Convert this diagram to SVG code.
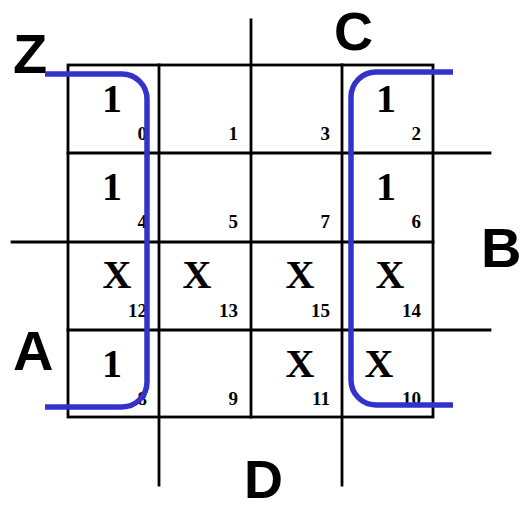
<svg xmlns="http://www.w3.org/2000/svg" width="520" height="510" viewBox="0 0 520 510">
<style>
.g{stroke:#000;stroke-width:2.8;fill:none;stroke-linecap:square}
.v{font-family:"Liberation Serif","Times New Roman",serif;font-weight:bold;font-size:40px;text-anchor:middle;fill:#000}
.n{font-family:"Liberation Serif","Times New Roman",serif;font-weight:bold;font-size:19px;text-anchor:end;fill:#000}
.lab{font-family:"Liberation Sans",Arial,sans-serif;font-weight:bold;font-size:56px;fill:#000}
.loop{stroke:#3333cc;stroke-width:5.5;fill:none}
</style>
<rect width="520" height="510" fill="#fff"/>
<g id="grid">
<rect class="g" x="68" y="65" width="365" height="352"/>
<line class="g" x1="159" y1="65" x2="159" y2="485"/>
<line class="g" x1="251" y1="20" x2="251" y2="417"/>
<line class="g" x1="342" y1="65" x2="342" y2="485"/>
<line class="g" x1="68" y1="153" x2="490" y2="153"/>
<line class="g" x1="12" y1="242" x2="433" y2="242"/>
<line class="g" x1="68" y1="330" x2="490" y2="330"/>
</g>
<g id="labels">
<text class="lab" x="13" y="73">Z</text>
<text class="lab" x="334" y="50" style="font-size:54px">C</text>
<text class="lab" x="481" y="267">B</text>
<text class="lab" x="13" y="370">A</text>
<text class="lab" x="244" y="498" style="font-size:54px">D</text>
</g>
<g id="cells">
<text class="v" x="112" y="112">1</text>
<text class="v" x="386" y="112">1</text>
<text class="v" x="112" y="200">1</text>
<text class="v" x="386" y="200">1</text>
<text class="v" x="117" y="288">X</text>
<text class="v" x="197" y="288">X</text>
<text class="v" x="300" y="288">X</text>
<text class="v" x="390" y="288">X</text>
<text class="v" x="112" y="377">1</text>
<text class="v" x="300" y="377">X</text>
<text class="v" x="379" y="377">X</text>
<text class="n" x="147" y="140">0</text>
<text class="n" x="238" y="140">1</text>
<text class="n" x="330" y="140">3</text>
<text class="n" x="421" y="140">2</text>
<text class="n" x="147" y="228">4</text>
<text class="n" x="238" y="228">5</text>
<text class="n" x="330" y="228">7</text>
<text class="n" x="421" y="228">6</text>
<text class="n" x="147" y="317">12</text>
<text class="n" x="238" y="317">13</text>
<text class="n" x="330" y="317">15</text>
<text class="n" x="421" y="317">14</text>
<text class="n" x="147" y="405">8</text>
<text class="n" x="238" y="405">9</text>
<text class="n" x="330" y="405">11</text>
<text class="n" x="421" y="405">10</text>
</g>
<g id="connectors">
<path class="loop" d="M45,74 H122 A25,25 0 0 1 147,99 V382 A25,25 0 0 1 122,407 H45"/>
<path class="loop" d="M453,72 H376 A25,25 0 0 0 351,97 V380 A25,25 0 0 0 376,405 H453"/>
</g>
</svg>
